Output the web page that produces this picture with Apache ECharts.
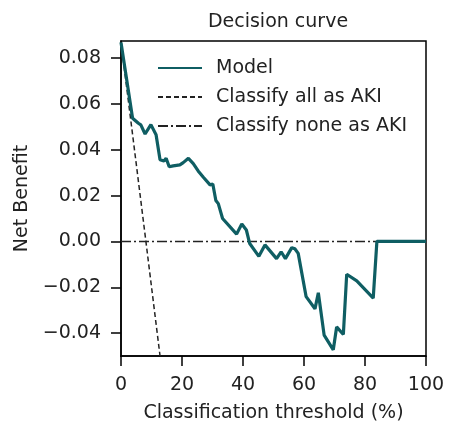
<!DOCTYPE html>
<html>
<head>
<meta charset="utf-8">
<script src="https://cdn.jsdelivr.net/npm/echarts@6/dist/echarts.min.js"></script>
<style>
  html, body { margin: 0; padding: 0; background: #fff; }
  #chart { width: 465px; height: 428px; }
</style>
</head>
<body>
<div id="chart"></div>
<script>
// threshold (%) , net benefit
const modelX = [0, 3.8, 5.7, 6.5, 7.9, 9.8, 11.5, 12.8, 14.1, 14.8, 15.8, 17.1, 19.3, 20.4, 22.1, 23.7, 25.3, 27.0, 29.2, 30.1,
  31.1, 31.9, 33.3, 37.9, 39.6, 41.1, 42.2, 45.2, 47.2, 51.0, 52.5, 53.9, 56.0, 57.0, 58.1, 60.7, 63.6, 64.7, 66.6, 69.6,
  70.7, 72.9, 74.0, 77.3, 82.7, 83.9, 100]
const modelY = [0.0869, 0.0538, 0.0516, 0.0509, 0.0469, 0.0510, 0.0466, 0.0357, 0.0351, 0.0363, 0.0326, 0.0330, 0.0334, 0.0344, 0.0363, 0.0340, 0.0308, 0.0280, 0.0247, 0.0251,
  0.0179, 0.0165, 0.0100, 0.0032, 0.0076, 0.0050, -0.0009, -0.0065, -0.0015, -0.0075, -0.0045, -0.0075, -0.0027, -0.0032, -0.0052, -0.0241, -0.0294, -0.0224, -0.0409, -0.0473,
  -0.0373, -0.0406, -0.0143, -0.0172, -0.0247, 0, 0]
const allX = [0, 4, 8, 12.8]
const allY = [0.087, 0.0445, 0.0018, -0.05]
const noneX = [0, 100]
const noneY = [0, 0]

const yTicks = [-0.04, -0.02, 0, 0.02, 0.04, 0.06, 0.08]

const font = 'DejaVu Sans'
const ink = '#222'

function pairs(xs, ys) {
  return xs.map((x, i) => [x, ys[i]])
}

const chart = echarts.init(document.getElementById('chart'))
chart.setOption({
  animation: false,
  title: {
    text: 'Decision curve',
    left: 273,
    top: 8,
    textAlign: 'center',
    textStyle: { fontFamily: font, fontSize: 19, fontWeight: 'normal', color: ink }
  },
  legend: {
    orient: 'vertical',
    left: 152,
    top: 53,
    icon: 'inherit',
    itemWidth: 44,
    itemHeight: 20,
    itemGap: 9,
    itemStyle: { color: 'rgba(0,0,0,0)', borderWidth: 0 },
    textStyle: { fontFamily: font, fontSize: 19, color: ink, lineHeight: 20, padding: [0, 0, 0, 9] },
    data: ['Model', 'Classify all as AKI', 'Classify none as AKI']
  },
  grid: {
    left: 121,
    right: 39,
    top: 41,
    bottom: 66,
    show: true,
    borderColor: '#000',
    borderWidth: 1.5
  },
  xAxis: {
    type: 'value',
    min: 0,
    max: 100,
    interval: 20,
    name: 'Classification threshold (%)',
    nameLocation: 'middle',
    nameGap: 48,
    nameTextStyle: { fontFamily: font, fontSize: 19, color: ink },
    axisLine: { onZero: false, lineStyle: { color: '#000', width: 1.5 } },
    axisTick: { show: true, length: 10, lineStyle: { color: '#000', width: 1.5 } },
    axisLabel: { fontFamily: font, fontSize: 19, color: ink, margin: 20, showMinLabel: true, showMaxLabel: true },
    splitLine: { show: false }
  },
  yAxis: {
    type: 'value',
    min: -0.05,
    max: 0.0875,
    name: 'Net Benefit',
    nameLocation: 'middle',
    nameGap: 82,
    nameTextStyle: { fontFamily: font, fontSize: 19, color: ink },
    axisLine: { show: true, onZero: false, lineStyle: { color: '#000', width: 1.5 } },
    axisTick: { show: true, length: 10, customValues: yTicks, lineStyle: { color: '#000', width: 1.5 } },
    axisLabel: {
      fontFamily: font, fontSize: 19, color: ink, margin: 20,
      customValues: yTicks,
      formatter: v => (v < -1e-9 ? '\u2212' : '') + Math.abs(v).toFixed(2)
    },
    splitLine: { show: false }
  },
  series: [
    {
      name: 'Model',
      type: 'line',
      symbol: 'none',
      data: pairs(modelX, modelY),
      lineStyle: { color: '#0f5e63', width: 3.2 },
      itemStyle: { color: '#0f5e63' },
      z: 3
    },
    {
      name: 'Classify all as AKI',
      type: 'line',
      symbol: 'none',
      data: pairs(allX, allY),
      lineStyle: { color: '#222', width: 1.5, type: [5, 3] },
      itemStyle: { color: '#222' },
      z: 2
    },
    {
      name: 'Classify none as AKI',
      type: 'line',
      symbol: 'none',
      data: pairs(noneX, noneY),
      lineStyle: { color: '#222', width: 1.5, type: [10, 3, 2, 3] },
      itemStyle: { color: '#222' },
      z: 2
    }
  ]
})
</script>
</body>
</html>
